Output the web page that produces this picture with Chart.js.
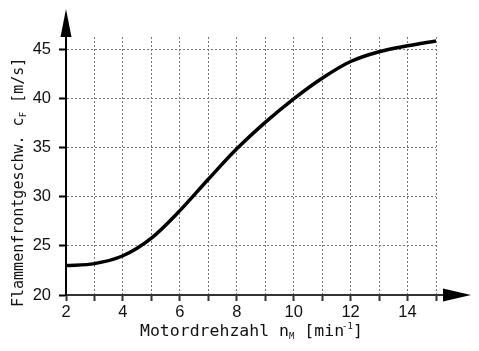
<!DOCTYPE html>
<html>
<head>
<meta charset="utf-8">
<script src="https://cdn.jsdelivr.net/npm/chart.js@4.4.1/dist/chart.umd.min.js"></script>
<style>
  html, body { margin: 0; padding: 0; background: #fff; }
  #wrap { width: 479px; height: 351px; }
</style>
</head>
<body>
<div id="wrap"><canvas id="chart" width="479" height="351"></canvas></div>
<script>
// Motordrehzahl in 1000 min^-1
const rpm = [2, 3, 4, 5, 6, 7, 8, 9, 10, 11, 12, 13, 14, 15];
// Flammenfrontgeschwindigkeit in m/s
const speed = [23.0, 23.2, 24.0, 25.8, 28.6, 31.8, 34.9, 37.6, 40.0, 42.1, 43.8, 44.8, 45.4, 45.9];
const xLabels = [2, 4, 6, 8, 10, 12, 14];
const yLabels = [20, 25, 30, 35, 40, 45];

const mono = "'DejaVu Sans Mono', 'Liberation Mono', monospace";

// Pfeile an den Achsen und Achsbeschriftungen mit Index
const axisDecor = {
    id: "axisDecor",
    afterDraw(chart) {
        const c = chart.ctx;
        const a = chart.chartArea;
        c.save();
        c.fillStyle = "#000";
        c.strokeStyle = "#333";
        c.lineWidth = 2;

        // x-Achse verlaengern + Pfeil
        c.beginPath();
        c.moveTo(a.right, a.bottom);
        c.lineTo(a.right + 10, a.bottom);
        c.stroke();
        c.beginPath();
        c.moveTo(a.right + 7, a.bottom - 6.5);
        c.lineTo(a.right + 35, a.bottom);
        c.lineTo(a.right + 7, a.bottom + 6.5);
        c.closePath();
        c.fill();

        // y-Achse verlaengern + Pfeil
        c.strokeStyle = "#000";
        c.beginPath();
        c.moveTo(a.left, a.top + 1);
        c.lineTo(a.left, a.top - 4);
        c.stroke();
        c.beginPath();
        c.moveTo(a.left - 5.5, a.top);
        c.lineTo(a.left, a.top - 28);
        c.lineTo(a.left + 5.5, a.top);
        c.closePath();
        c.fill();

        // x-Titel
        c.fillStyle = "#111";
        c.textBaseline = "alphabetic";
        c.textAlign = "left";
        let x = 140, y = 336;
        c.font = "16.5px " + mono;
        c.fillText("Motordrehzahl n", x, y);
        x += c.measureText("Motordrehzahl n").width;
        c.font = "9px " + mono;
        c.fillText("M", x, y + 3);
        x += c.measureText("M").width;
        c.font = "16.5px " + mono;
        c.fillText(" [min", x, y);
        x += c.measureText(" [min").width;
        c.font = "9px " + mono;
        c.fillText("-1", x - 2, y - 7);
        x += c.measureText("-1").width - 2;
        c.font = "16.5px " + mono;
        c.fillText("]", x, y);

        // y-Titel (gedreht)
        c.translate(23, 307);
        c.rotate(-Math.PI / 2);
        x = 0; y = 0;
        c.font = "15px " + mono;
        c.fillText("Flammenfrontgeschw. c", x, y);
        x += c.measureText("Flammenfrontgeschw. c").width;
        c.font = "9px " + mono;
        c.fillText("F", x, y + 3);
        x += c.measureText("F").width;
        c.font = "15px " + mono;
        c.fillText(" [m/s]", x, y);
        c.restore();
    }
};

new Chart(document.getElementById("chart"), {
    type: "line",
    data: {
        datasets: [
            {
                data: rpm.map((v, i) => ({ x: v, y: speed[i] })),
                borderColor: "#000",
                borderWidth: 3.5,
                pointRadius: 0,
                cubicInterpolationMode: "monotone",
                fill: false,
            },
        ],
    },
    options: {
        responsive: false,
        animation: false,
        layout: {
            padding: { top: 37, right: 43, left: 0, bottom: 0 },
        },
        plugins: {
            legend: { display: false },
            tooltip: { enabled: false },
        },
        scales: {
            x: {
                type: "linear",
                min: 2,
                max: 15,
                afterFit(scale) { scale.height = 56; },
                ticks: {
                    stepSize: 1,
                    autoSkip: false,
                    maxRotation: 0,
                    padding: 2,
                    color: "#111",
                    font: { size: 16.5, family: "'Liberation Sans', Arial, sans-serif" },
                    callback: (v) => (xLabels.includes(v) ? String(v) : ""),
                },
                grid: {
                    color: "#777",
                    lineWidth: 1,
                    tickLength: 6,
                    tickColor: "#333",
                    tickWidth: 2,
                    tickBorderDash: [],
                },
                border: { display: true, color: "#333", width: 2, dash: [2, 2] },
            },
            y: {
                min: 20,
                max: 46.3,
                afterFit(scale) { scale.width = 66; },
                ticks: {
                    stepSize: 5,
                    includeBounds: false,
                    padding: 8,
                    color: "#111",
                    font: { size: 16.5, family: "'Liberation Sans', Arial, sans-serif" },
                    callback: (v) => (yLabels.includes(v) ? String(v) : ""),
                },
                grid: {
                    color: "#777",
                    lineWidth: 1,
                    tickLength: 7,
                    tickColor: "#000",
                    tickWidth: 2,
                    tickBorderDash: [],
                },
                border: { display: true, color: "#000", width: 2, dash: [2, 2] },
            },
        },
    },
    plugins: [axisDecor],
});
</script>
</body>
</html>
